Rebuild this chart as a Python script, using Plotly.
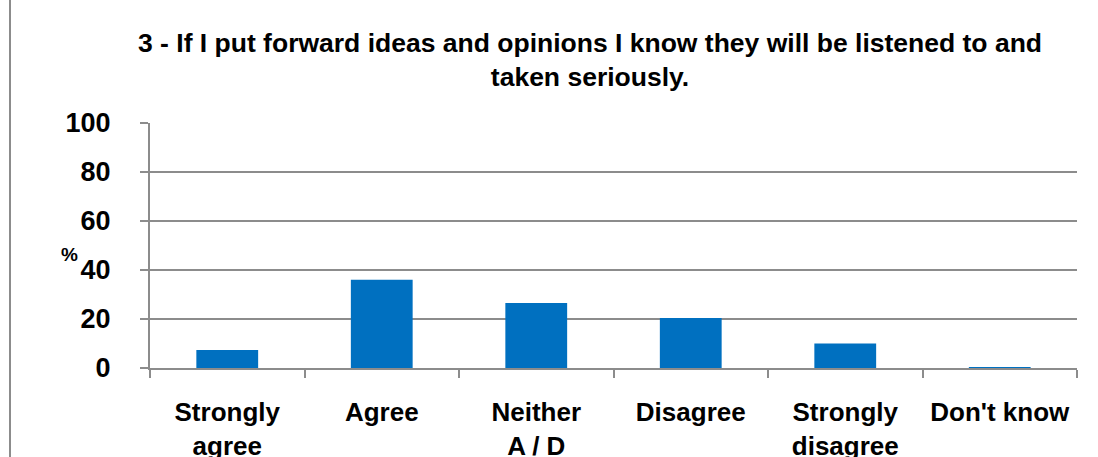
import plotly.graph_objects as go

categories = ["Strongly<br>agree", "Agree", "Neither<br>A / D", "Disagree", "Strongly<br>disagree", "Don't know"]
values = [7.3, 36, 26.5, 20.4, 10, 0.3]
y_ticks = [0, 20, 40, 60, 80, 100]
title_text = "3 - If I put forward ideas and opinions I know they will be listened to and<br>taken seriously."

W, H = 1098, 457
L, R, T, B = 150, 21, 123, 89
PW, PH = W - L - R, H - T - B

fig = go.Figure(go.Bar(x=categories, y=values, marker=dict(color="#0070C0", line=dict(width=0)), width=0.4))

fig.update_layout(
    width=W, height=H,
    margin=dict(l=L, r=R, t=T, b=B, autoexpand=False),
    paper_bgcolor="white", plot_bgcolor="white",
    font=dict(family="Liberation Sans, Arial, sans-serif", color="black"),
    showlegend=False,
    bargap=0.6,
)
fig.add_annotation(text="<b>" + title_text + "</b>", xref="paper", yref="paper",
                   x=(590 - L) / PW, xanchor="center", y=(H - B - 26) / PH, yanchor="top",
                   showarrow=False, align="center", font=dict(size=26.5, color="black"))
fig.update_xaxes(
    showline=True, linecolor="#8c8c8c", linewidth=2,
    ticks="outside", tickson="boundaries", ticklen=8, tickcolor="#8c8c8c", tickwidth=2,
    tickfont=dict(size=26, color="black"), showgrid=False, tickangle=0, automargin=False,
    tickprefix="<b>", ticksuffix="</b>", ticklabelstandoff=20,
)
fig.update_yaxes(
    range=[0, 100], tickvals=y_ticks, ticktext=["<b>%d</b>" % v for v in y_ticks],
    showline=True, linecolor="#8c8c8c", linewidth=2,
    ticks="outside", ticklen=8, tickcolor="#8c8c8c", tickwidth=2,
    showgrid=True, gridcolor="#8c8c8c", gridwidth=2, automargin=False,
    tickfont=dict(size=27, color="black"), ticklabelstandoff=24, zeroline=False,
)
fig.add_annotation(text="<b>%</b>", xref="paper", yref="paper", x=(59 - L) / PW,
                   y=(H - B - 254) / PH, showarrow=False, font=dict(size=19, color="black"))
fig.add_shape(type="line", xref="paper", yref="paper", x0=(10 - L) / PW, x1=(10 - L) / PW,
              y0=-B / PH, y1=(H - B) / PH, line=dict(color="#8c8c8c", width=2))
fig.write_html("out.html")
